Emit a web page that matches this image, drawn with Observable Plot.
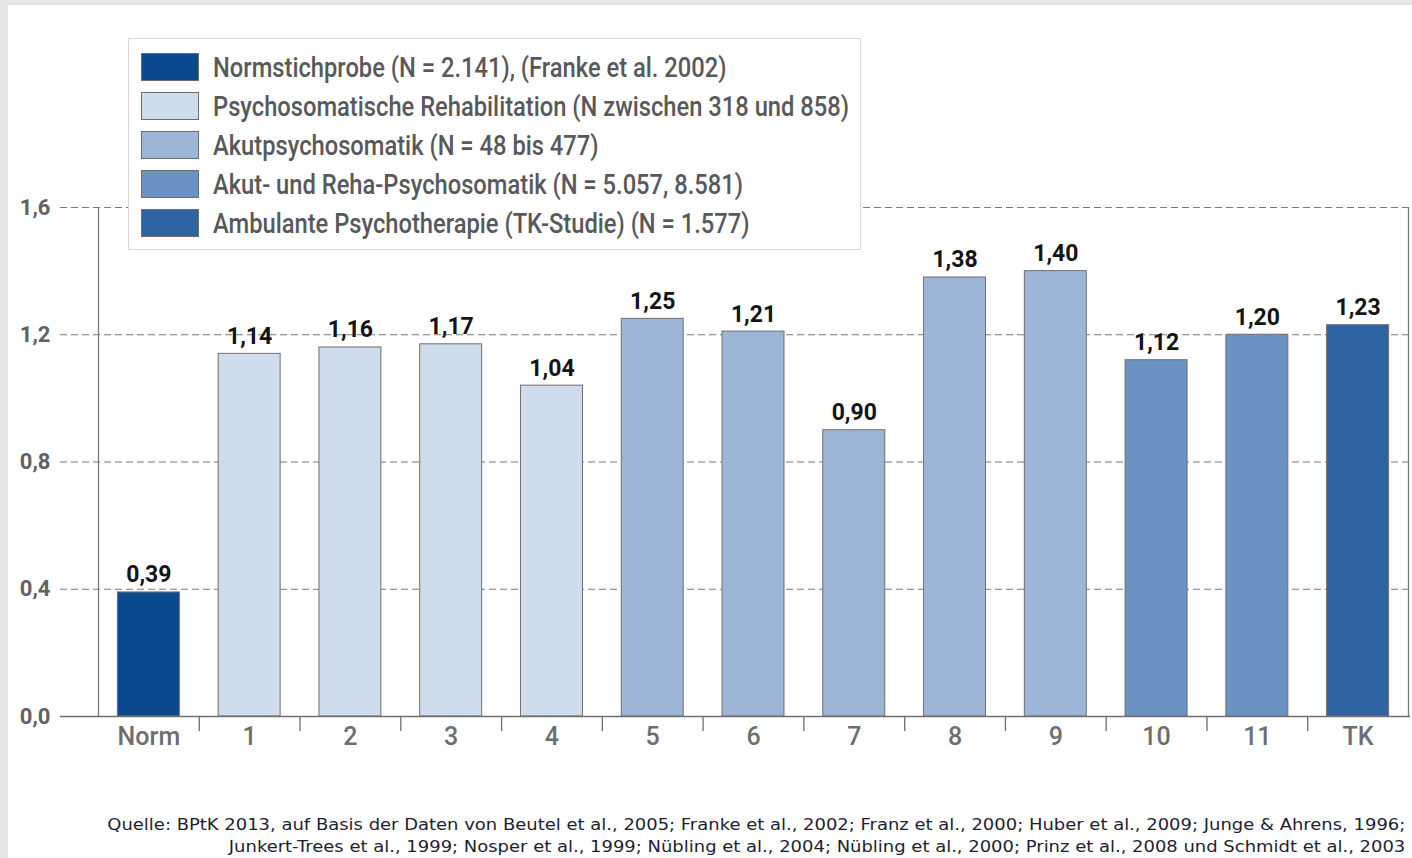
<!DOCTYPE html>
<html>
<head>
<meta charset="utf-8">
<script src="https://cdn.jsdelivr.net/npm/d3@7"></script>
<script src="https://cdn.jsdelivr.net/npm/@observablehq/plot@0.6"></script>
<style>
  html, body { margin: 0; padding: 0; background: #e6e6e6; width: 1412px; height: 858px; overflow: hidden; }
  #panel { position: absolute; left: 8px; top: 5px; width: 1404px; height: 853px; background: #fff; }
  #chart { position: absolute; left: 0; top: 0; }
  #legend { position: absolute; left: 128px; top: 38px; width: 733px; height: 212px; background: #fff;
            border: 1px solid #d6dadc; box-sizing: border-box; }
  .lg-row { position: absolute; left: 12px; height: 30px; display: flex; align-items: center; }
  .lg-sw { width: 58px; height: 28px; border: 1px solid #6d6d6d; box-sizing: border-box; flex: none; }
  .lg-tx { margin-left: 14px; font-family: Roboto, "Noto Sans", sans-serif; font-weight: 500;
           font-size: 28px; color: #58595b; white-space: nowrap; transform-origin: left center; display: inline-block; }
  #footer { position: absolute; right: 7px; top: 814px; text-align: right;
            font-family: "DejaVu Sans", "Noto Sans", sans-serif; font-size: 16px; line-height: 22px; color: #1e1e30; }
  #footer div { white-space: nowrap; transform-origin: right center; }
</style>
</head>
<body>
<div id="panel"></div>
<div id="chart"></div>
<div id="legend"></div>
<div id="footer"></div>
<script>
const categories = ["Norm", "1", "2", "3", "4", "5", "6", "7", "8", "9", "10", "11", "TK"];
const values = [0.39, 1.14, 1.16, 1.17, 1.04, 1.25, 1.21, 0.90, 1.38, 1.40, 1.12, 1.20, 1.23];
const groupOf = ["Norm", "Reha", "Reha", "Reha", "Reha", "Akut", "Akut", "Akut", "Akut", "Akut", "AkutReha", "AkutReha", "TK"];
const groupKeys = ["Norm", "Reha", "Akut", "AkutReha", "TK"];
const groupLabels = [
  "Normstichprobe (N = 2.141), (Franke et al. 2002)",
  "Psychosomatische Rehabilitation (N zwischen 318 und 858)",
  "Akutpsychosomatik (N = 48 bis 477)",
  "Akut- und Reha-Psychosomatik (N = 5.057, 8.581)",
  "Ambulante Psychotherapie (TK-Studie) (N = 1.577)"
];
const groupColors = ["#0b4a8e", "#cfdcec", "#9db6d7", "#6a92c3", "#2e64a3"];
const yTicks = [0, 0.4, 0.8, 1.2, 1.6];
const sourceLines = [
  "Quelle: BPtK 2013, auf Basis der Daten von Beutel et al., 2005; Franke et al., 2002; Franz et al., 2000; Huber et al., 2009; Junge & Ahrens, 1996;",
  "Junkert-Trees et al., 1999; Nosper et al., 1999; Nübling et al., 2004; Nübling et al., 2000; Prinz et al., 2008 und Schmidt et al., 2003"
];

const data = categories.map((c, i) => ({cat: c, value: values[i], group: groupOf[i]}));
const comma = (v, digits) => v.toFixed(digits).replace(".", ",");

const x0 = 98, x1 = 1408;
const step = (x1 - x0) / categories.length;
const font = 'Roboto, "Noto Sans", sans-serif';

const plot = Plot.plot({
  width: 1412,
  height: 858,
  marginTop: 207,
  marginBottom: 142,
  marginLeft: 60,
  marginRight: 2,
  style: {background: "transparent", fontFamily: font, overflow: "visible"},
  x: {type: "band", domain: categories, range: [x0, x1], round: false, paddingInner: 0.385, paddingOuter: 0.1925, label: null},
  y: {domain: [0, 1.6], label: null},
  color: {domain: groupKeys, range: groupColors},
  marks: [
    Plot.ruleY(yTicks.filter(d => d > 0), {stroke: "#7a7a7a", strokeWidth: 1, strokeDasharray: "7,4"}),
    Plot.ruleX([categories[0]], {y1: 0, y2: 1.6, dx: -step / 2, stroke: "#7a7a7a", strokeWidth: 1.3}),
    Plot.ruleX([categories[categories.length - 1]], {y1: 0, y2: 1.6, dx: step / 2, stroke: "#7a7a7a", strokeWidth: 1.3}),
    Plot.barY(data, {x: "cat", y: "value", fill: "group", stroke: "#6f6f6f", strokeWidth: 1}),
    Plot.ruleY([0], {stroke: "#6f6f6f", strokeWidth: 1.5}),
    Plot.axisX({ticks: categories.slice(1), tickSize: 15, text: null, dx: -step / 2, stroke: "#6f6f6f", strokeWidth: 1.3}),
    Plot.axisX({tickSize: 0, tickPadding: 11, fontSize: 25, fill: "#6d6e70", fontWeight: 500, lineAnchor: "top"}),
    Plot.axisY({ticks: yTicks, tickSize: 0, tickPadding: 10, tickFormat: d => comma(d, 1), fontSize: 22, fill: "#616264", fontWeight: "bold"}),
    Plot.text(data, {x: "cat", y: "value", text: d => comma(d.value, 2), dy: -10, lineAnchor: "bottom",
      fontSize: 23, fontWeight: "bold", fill: "#141414"})
  ]
});
document.getElementById("chart").appendChild(plot);

const legend = document.getElementById("legend");
const texts = [];
groupKeys.forEach((k, i) => {
  const row = document.createElement("div");
  row.className = "lg-row";
  row.style.top = (13 + i * 39) + "px";
  const sw = document.createElement("div");
  sw.className = "lg-sw";
  sw.style.background = groupColors[i];
  const tx = document.createElement("div");
  tx.className = "lg-tx";
  tx.textContent = groupLabels[i];
  row.appendChild(sw);
  row.appendChild(tx);
  legend.appendChild(row);
  texts.push(tx);
});
// condense legend text so the longest label spans the same width as in the reference
const longest = Math.max(...texts.map(t => t.getBoundingClientRect().width));
const sx = 636 / longest;
texts.forEach(t => t.style.transform = `scaleX(${sx})`);

const footer = document.getElementById("footer");
const lines = sourceLines.map(l => {
  const d = document.createElement("div");
  d.textContent = l;
  footer.appendChild(d);
  return d;
});
const w0 = lines[0].getBoundingClientRect().width;
const fx = 1298 / w0;
lines.forEach(d => d.style.transform = `scaleX(${fx})`);
</script>
</body>
</html>
